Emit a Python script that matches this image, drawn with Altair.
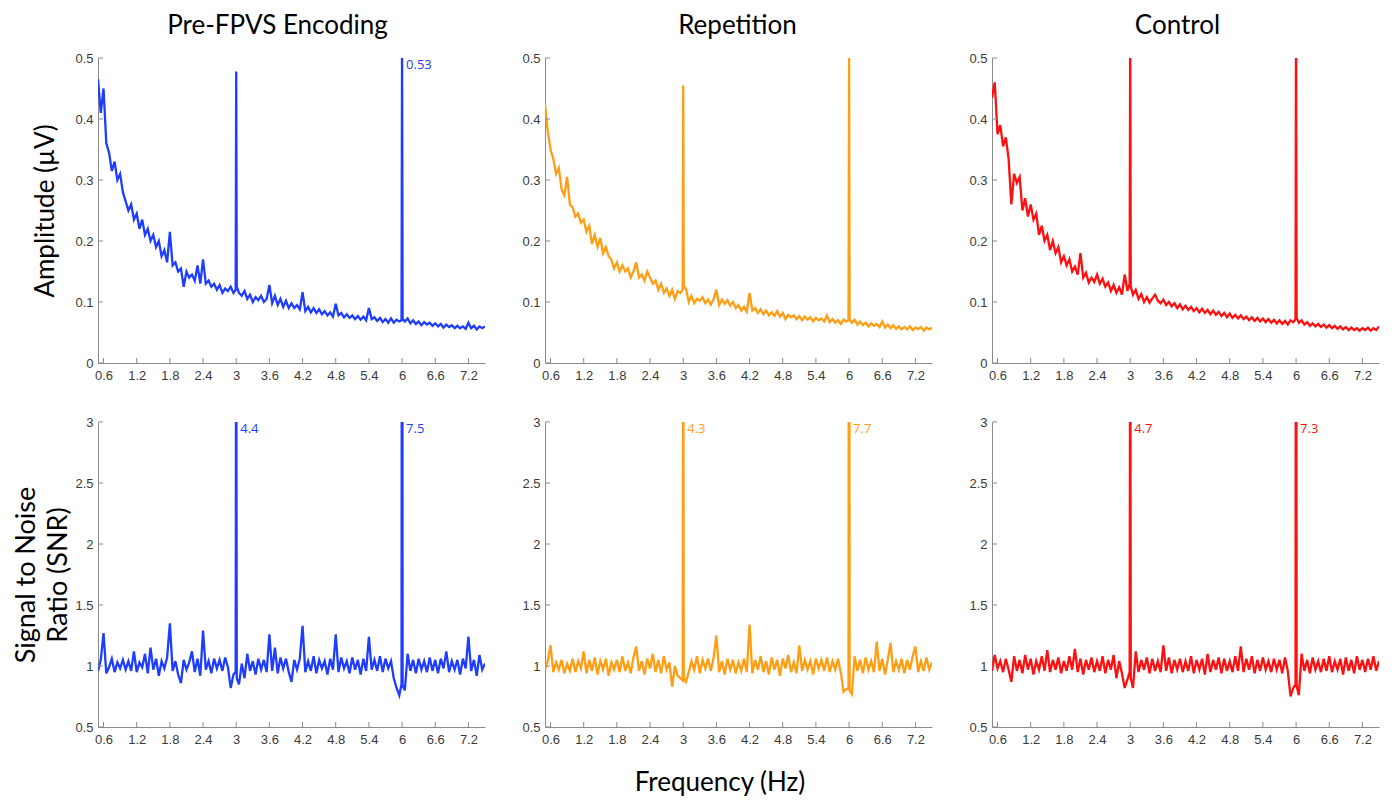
import altair as alt
import pandas as pd

# ---------------- data ----------------
FREQ = [
    0.50, 0.55, 0.60, 0.65, 0.70, 0.75, 0.80, 0.85, 0.90, 0.95,
    1.00, 1.05, 1.10, 1.15, 1.20, 1.25, 1.30, 1.35, 1.40, 1.45,
    1.50, 1.55, 1.60, 1.65, 1.70, 1.75, 1.80, 1.85, 1.90, 1.95,
    2.00, 2.05, 2.10, 2.15, 2.20, 2.25, 2.30, 2.35, 2.40, 2.45,
    2.50, 2.55, 2.60, 2.65, 2.70, 2.75, 2.80, 2.85, 2.90, 2.95,
    2.99, 3.00, 3.01,
    3.05, 3.10, 3.15, 3.20, 3.25, 3.30, 3.35, 3.40, 3.45,
    3.50, 3.55, 3.60, 3.65, 3.70, 3.75, 3.80, 3.85, 3.90, 3.95,
    4.00, 4.05, 4.10, 4.15, 4.20, 4.25, 4.30, 4.35, 4.40, 4.45,
    4.50, 4.55, 4.60, 4.65, 4.70, 4.75, 4.80, 4.85, 4.90, 4.95,
    5.00, 5.05, 5.10, 5.15, 5.20, 5.25, 5.30, 5.35, 5.40, 5.45,
    5.50, 5.55, 5.60, 5.65, 5.70, 5.75, 5.80, 5.85, 5.90, 5.95,
    5.99, 6.00, 6.01,
    6.05, 6.10, 6.15, 6.20, 6.25, 6.30, 6.35, 6.40, 6.45,
    6.50, 6.55, 6.60, 6.65, 6.70, 6.75, 6.80, 6.85, 6.90, 6.95,
    7.00, 7.05, 7.10, 7.15, 7.20, 7.25, 7.30, 7.35, 7.40, 7.45,
    7.50,
]

AMP_PRE = [
    0.465, 0.41, 0.45, 0.36, 0.345, 0.315, 0.33, 0.30, 0.31, 0.28,
    0.265, 0.25, 0.26, 0.235, 0.245, 0.22, 0.235, 0.21, 0.22, 0.20,
    0.21, 0.19, 0.20, 0.175, 0.185, 0.165, 0.215, 0.16, 0.165, 0.15,
    0.155, 0.125, 0.15, 0.14, 0.145, 0.135, 0.16, 0.13, 0.17, 0.13,
    0.135, 0.125, 0.13, 0.12, 0.128, 0.115, 0.122, 0.118, 0.125, 0.115,
    0.12, 0.478, 0.125,
    0.115, 0.11, 0.118, 0.105, 0.112, 0.10, 0.108, 0.103, 0.11,
    0.10, 0.105, 0.128, 0.098, 0.11, 0.095, 0.105, 0.092, 0.102, 0.09,
    0.098, 0.09, 0.095, 0.088, 0.116, 0.085, 0.092, 0.083, 0.09, 0.082,
    0.088, 0.08, 0.085, 0.078, 0.083, 0.076, 0.097, 0.078, 0.082, 0.075,
    0.08, 0.074, 0.078, 0.072, 0.077, 0.071, 0.076, 0.07, 0.09, 0.072,
    0.075, 0.069, 0.074, 0.067, 0.072, 0.066, 0.073, 0.066, 0.071, 0.068,
    0.07, 0.53, 0.072,
    0.068, 0.073, 0.065, 0.07, 0.064, 0.068, 0.062, 0.067, 0.063,
    0.066, 0.061, 0.065, 0.06, 0.064, 0.058, 0.063, 0.059, 0.062, 0.057,
    0.061, 0.057, 0.06, 0.056, 0.066, 0.057, 0.061, 0.055, 0.06, 0.057,
    0.06,
]

AMP_REP = [
    0.425, 0.38, 0.35, 0.335, 0.31, 0.32, 0.285, 0.275, 0.305, 0.26,
    0.255, 0.24, 0.245, 0.23, 0.235, 0.215, 0.225, 0.195, 0.21, 0.19,
    0.205, 0.18, 0.19, 0.175, 0.17, 0.155, 0.165, 0.15, 0.16, 0.15,
    0.155, 0.14, 0.15, 0.165, 0.14, 0.145, 0.135, 0.15, 0.14, 0.13,
    0.135, 0.12, 0.13, 0.115, 0.122, 0.11, 0.12, 0.105, 0.118, 0.115,
    0.12, 0.455, 0.125,
    0.122, 0.10, 0.11, 0.098, 0.105, 0.102, 0.108, 0.098, 0.104,
    0.096, 0.105, 0.12, 0.095, 0.104, 0.097, 0.103, 0.094, 0.10, 0.09,
    0.095, 0.086, 0.092, 0.084, 0.115, 0.086, 0.09, 0.082, 0.088, 0.08,
    0.086, 0.078, 0.083, 0.077, 0.085, 0.076, 0.082, 0.072, 0.079, 0.075,
    0.078, 0.072, 0.077, 0.07, 0.076, 0.071, 0.075, 0.068, 0.074, 0.07,
    0.073, 0.068, 0.078, 0.067, 0.072, 0.066, 0.07, 0.064, 0.071, 0.068,
    0.07, 0.51, 0.072,
    0.066, 0.071, 0.063, 0.068, 0.062, 0.066, 0.06, 0.065, 0.061,
    0.064, 0.059, 0.068, 0.058, 0.063, 0.057, 0.062, 0.056, 0.06, 0.055,
    0.059, 0.055, 0.06, 0.054, 0.058, 0.056, 0.059, 0.053, 0.058, 0.055,
    0.058,
]

AMP_CTL = [
    0.435, 0.46, 0.375, 0.39, 0.355, 0.37, 0.335, 0.26, 0.31, 0.295,
    0.305, 0.25, 0.27, 0.24, 0.26, 0.235, 0.245, 0.21, 0.225, 0.20,
    0.21, 0.185, 0.20, 0.18, 0.19, 0.165, 0.175, 0.16, 0.17, 0.15,
    0.158, 0.145, 0.18, 0.14, 0.148, 0.132, 0.14, 0.133, 0.145, 0.13,
    0.138, 0.125, 0.132, 0.118, 0.128, 0.115, 0.124, 0.112, 0.145, 0.118,
    0.13, 0.56, 0.125,
    0.112, 0.12, 0.105, 0.113, 0.10, 0.108, 0.099, 0.106, 0.112,
    0.102, 0.098, 0.104, 0.095, 0.10, 0.093, 0.098, 0.09, 0.096, 0.088,
    0.094, 0.087, 0.092, 0.085, 0.09, 0.083, 0.089, 0.082, 0.087, 0.08,
    0.086, 0.079, 0.084, 0.077, 0.082, 0.075, 0.081, 0.074, 0.079, 0.073,
    0.078, 0.072, 0.076, 0.07, 0.075, 0.069, 0.074, 0.068, 0.073, 0.067,
    0.072, 0.066, 0.071, 0.065, 0.07, 0.064, 0.069, 0.063, 0.07, 0.067,
    0.072, 0.60, 0.074,
    0.066, 0.07, 0.063, 0.067, 0.061, 0.065, 0.06, 0.064, 0.059,
    0.063, 0.058, 0.062, 0.057, 0.061, 0.056, 0.06, 0.055, 0.059, 0.054,
    0.058, 0.054, 0.057, 0.053, 0.057, 0.054, 0.058, 0.053, 0.057, 0.054,
    0.06,
]

SNR_PRE = [
    0.96, 1.05, 1.27, 0.94, 0.99, 1.06, 0.95, 1.03, 0.98, 1.05,
    0.97, 1.04, 0.96, 1.12, 0.95, 1.03, 0.99, 1.10, 0.94, 1.15,
    0.97, 1.06, 0.92, 1.04, 0.98, 1.07, 1.35, 0.96, 1.04, 0.93,
    0.86, 1.05, 0.97, 1.03, 1.12, 0.95, 1.06, 0.92, 1.29, 0.97,
    1.04, 0.94, 1.06, 0.98, 1.05, 0.96, 1.07, 0.99, 0.82, 0.93,
    0.95, 4.4, 0.90,
    0.85, 1.02, 0.90, 1.10, 0.96, 1.04, 0.93, 1.06, 0.97,
    1.05, 0.95, 1.26, 0.96, 1.15, 0.94, 1.07, 0.98, 1.06, 0.95,
    0.87, 1.05, 0.97, 1.06, 1.33, 0.95, 1.04, 0.96, 1.08, 0.94,
    1.05, 0.98, 1.04, 0.93, 1.06, 0.97, 1.26, 0.95, 1.07, 0.98,
    1.04, 0.94, 1.07, 0.97, 1.05, 0.93, 1.06, 0.96, 1.24, 0.97,
    1.05, 0.96, 1.08, 0.95, 1.06, 0.98, 1.04, 0.90, 0.82, 0.76,
    0.85, 7.5, 0.84,
    0.80, 1.10, 0.96, 1.05, 0.94, 1.06, 0.97, 1.04, 0.95,
    1.07, 0.96, 1.05, 0.94, 1.06, 0.98, 1.12, 0.95, 1.04, 0.97,
    1.05, 0.93, 1.06, 0.98, 1.24, 0.96, 1.05, 0.92, 1.09, 0.97,
    1.02,
]

SNR_REP = [
    0.97, 1.04, 1.17, 0.95, 1.03, 0.97, 1.05, 0.94, 1.02, 0.96,
    1.06, 0.95, 1.04, 0.98, 1.12, 0.94, 1.05, 0.96, 1.07, 0.93,
    1.04, 0.97, 1.06, 0.92, 1.03, 0.97, 1.05, 0.95, 1.08, 0.96,
    1.03, 0.94, 1.07, 1.16, 0.96, 1.04, 0.93, 1.06, 0.98, 1.10,
    0.95, 1.05, 0.94, 1.08, 0.97, 1.03, 0.83, 1.00, 0.92, 0.90,
    0.88, 4.3, 0.90,
    0.87, 0.95, 1.04, 0.97, 1.08, 0.94, 1.05, 0.98, 1.06,
    0.96, 1.07, 1.25, 0.95, 1.04, 0.93, 1.06, 0.97, 1.05, 0.94,
    1.03, 0.96, 1.06, 0.95, 1.34, 0.94, 1.05, 0.97, 1.08, 0.95,
    1.04, 0.93, 1.07, 0.97, 1.05, 0.92, 1.06, 0.98, 1.09, 0.95,
    1.03, 0.94, 1.17, 0.96, 1.05, 0.97, 1.04, 0.93, 1.06, 0.98,
    1.05, 0.96, 1.07, 0.95, 1.04, 0.97, 1.06, 0.95, 0.79, 0.81,
    0.82, 7.7, 0.80,
    0.77, 1.08, 0.96, 1.05, 0.94, 1.07, 0.97, 1.04, 0.95,
    1.20, 0.96, 1.06, 0.93, 1.05, 1.19, 0.95, 1.04, 0.97, 1.06,
    0.94, 1.05, 0.97, 1.08, 1.16, 0.95, 1.04, 0.96, 1.07, 0.97,
    1.03,
]

SNR_CTL = [
    0.96, 1.09, 0.98, 1.04, 0.95, 1.06, 0.97, 0.87, 1.08, 0.96,
    1.05, 0.94, 1.09, 0.97, 1.06, 0.93, 1.04, 0.97, 1.08, 0.96,
    1.13, 0.95, 1.05, 0.97, 1.07, 0.94, 1.04, 0.96, 1.08, 0.97,
    1.14, 0.95, 1.06, 0.93, 1.05, 0.97, 1.07, 0.95, 1.04, 0.96,
    1.08, 0.94, 1.05, 0.97, 1.09, 0.90, 1.04, 0.94, 0.82, 0.89,
    0.95, 4.7, 0.90,
    0.82, 1.12, 0.95, 1.05, 0.97, 1.07, 0.94, 1.06, 0.96,
    1.04, 0.95, 1.17, 0.96, 1.07, 0.94, 1.05, 0.97, 1.06, 0.95,
    1.04, 0.96, 1.08, 0.94, 1.05, 0.97, 1.06, 0.93, 1.10, 0.95,
    1.05, 0.97, 1.07, 0.94, 1.06, 0.96, 1.04, 0.95, 1.08, 0.96,
    1.16, 0.95, 1.06, 0.97, 1.08, 0.94, 1.05, 0.96, 1.07, 0.97,
    1.04, 0.95, 1.06, 0.97, 1.05, 0.94, 1.07, 0.96, 0.75, 0.82,
    0.85, 7.3, 0.84,
    0.76, 1.10, 0.96, 1.05, 0.94, 1.07, 0.97, 1.04, 0.95,
    1.06, 0.96, 1.08, 0.95, 1.04, 0.97, 1.06, 0.93, 1.07, 0.96,
    1.05, 0.94, 1.08, 0.97, 1.05, 0.95, 1.06, 0.97, 1.08, 0.96,
    1.04,
]

CONDITIONS = ["Pre-FPVS Encoding", "Repetition", "Control"]
COLORS = ["#1f3dff", "#ff9e12", "#ff1010"]
TITLE_DX = [-14, -1, -8]

# peak labels: (frequency, label text)
AMP_LABELS = [[(6.0, "0.53")], [], []]
SNR_LABELS = [[(3.0, "4.4"), (6.0, "7.5")],
              [(3.0, "4.3"), (6.0, "7.7")],
              [(3.0, "4.7"), (6.0, "7.3")]]

X_TICKS = [0.6, 1.2, 1.8, 2.4, 3.0, 3.6, 4.2, 4.8, 5.4, 6.0, 6.6, 7.2]
AMP_TICKS = [0, 0.1, 0.2, 0.3, 0.4, 0.5]
SNR_TICKS = [0.5, 1, 1.5, 2, 2.5, 3]
X_DOMAIN = [0.5, 7.5]
AMP_DOMAIN = [0, 0.5]
SNR_DOMAIN = [0.5, 3]

for s in (AMP_PRE, AMP_REP, AMP_CTL, SNR_PRE, SNR_REP, SNR_CTL):
    assert len(s) == len(FREQ), len(s)

# ---------------- styling ----------------
W, H = 387, 305
AXIS_COLOR = "#8a8a8a"
LABEL_COLOR = "#3a3a3a"
TITLE_FONT = "Lato"
TICK_FONT = "Liberation Sans"
LABEL_SIZE = 13
NO_VIEW = alt.ViewBackground(stroke="transparent", strokeWidth=0)


def panel(values, color, domain, yticks, labels, title=None, title_dx=0,
          ytitle=None, title_pad=6, title_size=26):
    df = pd.DataFrame({"f": FREQ, "v": values})
    xs = alt.Scale(domain=X_DOMAIN, nice=False, zero=False)
    ys = alt.Scale(domain=domain, nice=False, zero=False)

    yaxis_kw = dict(values=yticks, format="~g", tickSize=0, labelPadding=5,
                    grid=False, domainColor=AXIS_COLOR, labelFont=TICK_FONT,
                    labelFontSize=LABEL_SIZE, labelColor=LABEL_COLOR)
    if ytitle is not None:
        yaxis_kw.update(title=ytitle, titleFont=TITLE_FONT, titleFontSize=title_size,
                        titleFontWeight="normal", titleColor="black",
                        titlePadding=title_pad, titleLineHeight=32)
    else:
        yaxis_kw.update(title=None)
    xaxis = alt.Axis(values=X_TICKS, format="~g", title=None, grid=False,
                     tickSize=0, labelPadding=6, domainColor=AXIS_COLOR,
                     labelFont=TICK_FONT, labelFontSize=LABEL_SIZE,
                     labelColor=LABEL_COLOR)
    yaxis = alt.Axis(**yaxis_kw)

    line = alt.Chart(df).mark_line(color=color, strokeWidth=2.3, clip=True).encode(
        x=alt.X("f:Q", scale=xs, axis=xaxis),
        y=alt.Y("v:Q", scale=ys, axis=yaxis),
    ).properties(view=NO_VIEW)

    xt = alt.Chart(pd.DataFrame({"f": X_TICKS})).mark_rule(
        color=AXIS_COLOR, strokeWidth=1).encode(
        x=alt.X("f:Q", scale=xs, axis=xaxis),
        y=alt.value(H), y2=alt.value(H - 5)).properties(view=NO_VIEW)

    yt = alt.Chart(pd.DataFrame({"v": yticks})).mark_rule(
        color=AXIS_COLOR, strokeWidth=1).encode(
        y=alt.Y("v:Q", scale=ys, axis=yaxis),
        x=alt.value(0), x2=alt.value(5)).properties(view=NO_VIEW)

    layers = [line, xt, yt]
    if labels:
        ldf = pd.DataFrame({"f": [p[0] for p in labels],
                            "v": [domain[1]] * len(labels),
                            "t": [p[1] for p in labels]})
        txt = alt.Chart(ldf).mark_text(
            align="left", baseline="top", dx=4, dy=1, fontSize=13,
            font="Open Sans", color=color).encode(
            x=alt.X("f:Q", scale=xs, axis=xaxis),
            y=alt.Y("v:Q", scale=ys, axis=yaxis),
            text="t:N").properties(view=NO_VIEW)
        layers.append(txt)

    props = dict(width=W, height=H, view=NO_VIEW)
    if title is not None:
        props["title"] = alt.TitleParams(title, font=TITLE_FONT, fontSize=26,
                                         fontWeight="normal", color="black",
                                         anchor="middle", offset=13, dx=title_dx)
    return alt.layer(*layers).properties(**props)


panels = []
for i, cond in enumerate(CONDITIONS):
    amp = [AMP_PRE, AMP_REP, AMP_CTL][i]
    panels.append(panel(amp, COLORS[i], AMP_DOMAIN, AMP_TICKS, AMP_LABELS[i],
                        title=cond, title_dx=TITLE_DX[i],
                        ytitle="Amplitude (µV)" if i == 0 else None,
                        title_pad=16, title_size=26))
for i, cond in enumerate(CONDITIONS):
    snr = [SNR_PRE, SNR_REP, SNR_CTL][i]
    panels.append(panel(snr, COLORS[i], SNR_DOMAIN, SNR_TICKS, SNR_LABELS[i],
                        ytitle=["Signal to Noise", "Ratio (SNR)"] if i == 0 else None,
                        title_pad=2, title_size=27))

chart = alt.concat(*panels, columns=3, spacing={"row": 59, "column": 60},
                   bounds="flush").properties(
    title=alt.TitleParams("Frequency (Hz)", orient="bottom", anchor="middle",
                          font=TITLE_FONT, fontSize=26, fontWeight="normal",
                          color="black", offset=24, dx=24),
    padding={"left": 4, "top": 5, "right": 5, "bottom": 0},
).configure_view(strokeWidth=0, stroke="transparent").configure_axis(
    domainColor=AXIS_COLOR, domainWidth=1, grid=False,
    labelColor=LABEL_COLOR, labelFont=TICK_FONT, labelFontSize=LABEL_SIZE,
).configure(background="white")

chart.save("out.html", embed_options={"renderer": "svg", "actions": False})
